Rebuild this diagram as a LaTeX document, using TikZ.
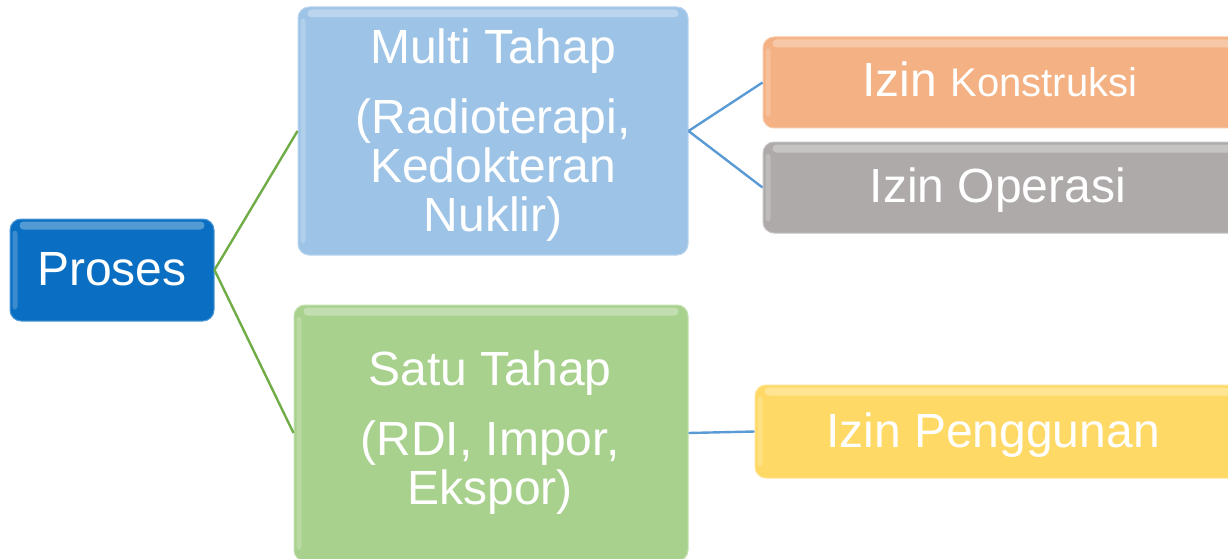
\documentclass[tikz,border=0pt]{standalone}
\usepackage{fontspec}
\setmainfont{Liberation Sans}
\begin{document}
\begin{tikzpicture}[x=1pt,y=-1pt,
  box/.style={rounded corners=11pt, draw=#1!70!white, line width=1pt, fill=#1, minimum width=0pt, inner sep=0pt},
  txt/.style={text=white, align=center, inner sep=0pt, font=\fontsize{48}{49}\selectfont},
  gline/.style={draw=lgreen, line width=2.4pt},
  bline/.style={draw=lblue, line width=2.4pt}]
\definecolor{cproses}{HTML}{0A6FC2}
\definecolor{cmulti}{HTML}{9DC3E6}
\definecolor{ckons}{HTML}{F4B183}
\definecolor{cops}{HTML}{AEAAAA}
\definecolor{csatu}{HTML}{A9D18E}
\definecolor{cpeng}{HTML}{FFD966}
\definecolor{lgreen}{HTML}{70AD47}
\definecolor{lblue}{HTML}{5B9BD5}
\useasboundingbox (0,0) rectangle (1228,559);
\clip (0,0) rectangle (1228,559);

% boxes
\node[box=cproses, minimum width=204pt, minimum height=102pt] (proses) at (112,270) {};
\node[box=cmulti, minimum width=390pt, minimum height=248pt] (multi) at (493,131) {};
\node[box=csatu, minimum width=394pt, minimum height=256pt] (satu) at (491,433) {};
\node[box=ckons, minimum width=480pt, minimum height=91pt] (kons) at (1003,82.5) {};
\node[box=cops, minimum width=480pt, minimum height=91pt] (ops) at (1003,187.5) {};
\node[box=cpeng, minimum width=490pt, minimum height=93pt] (peng) at (1000,431.5) {};

% gloss highlights
\foreach \n in {proses,multi,satu,kons,ops,peng}{
  \fill[white, opacity=0.3, rounded corners=4pt]
    ([xshift=10pt,yshift=-3pt]\n.north west) rectangle ([xshift=-10pt,yshift=-11pt]\n.north east);
  \fill[white, opacity=0.2, rounded corners=3pt]
    ([xshift=3pt,yshift=-12pt]\n.north west) rectangle ([xshift=8pt,yshift=12pt]\n.south west);
}

% texts
\node[txt, anchor=base] (tproses) at (112,285) {Proses};
\node[txt, anchor=base] (tmulti) at (493,231) {Multi Tahap\\[21pt](Radioterapi,\\Kedokteran\\Nuklir)};
\node[txt, anchor=base] (tsatu) at (490,504) {Satu Tahap\\[21pt](RDI, Impor,\\Ekspor)};
\node[txt, anchor=base] (tkons) at (1000,97) {Izin {\fontsize{40}{44}\selectfont Konstruksi}};
\node[txt, anchor=base] (tops) at (998,202) {Izin Operasi};
\node[txt, anchor=base] (tpeng) at (993,447) {Izin Penggunan};

% connectors
\draw[gline] (proses.east) -- (multi.west);
\draw[gline] (proses.east) -- (satu.west);
\draw[bline] (multi.east) -- (kons.west);
\draw[bline] (multi.east) -- (ops.west);
\draw[bline] (satu.east) -- (peng.west);
\end{tikzpicture}
\end{document}
